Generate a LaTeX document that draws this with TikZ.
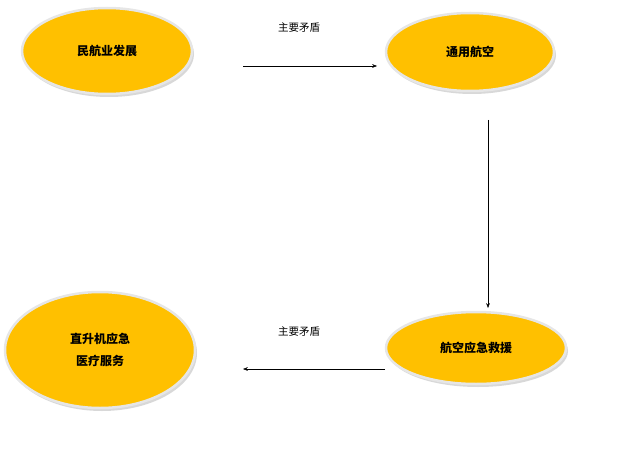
\documentclass[tikz,border=0pt]{standalone}
\usepackage{fontspec}
\newfontfamily\cjk{Noto Sans CJK SC}
\usetikzlibrary{shapes.geometric, arrows.meta, shadows}
\definecolor{gold}{HTML}{FFC000}
\definecolor{rim}{HTML}{E6E6E6}

\begin{document}
\begin{tikzpicture}[x=1pt, y=-1pt, >=Stealth,
    stage/.style={draw=rim, line width=2.5pt, fill=gold, ellipse, align=center,
        font=\cjk\bfseries\fontsize{12}{22}\selectfont, inner sep=0pt,
        drop shadow={shadow xshift=2pt, shadow yshift=-3pt, fill=gray!60}},
    tag/.style={font=\cjk\fontsize{10.5}{12}\selectfont}]
    \useasboundingbox (0,0) rectangle (620,449);

    % Stages
    \node[stage, minimum width=170pt, minimum height=86pt] (civil) at (107,51) {民航业发展};
    \node[stage, minimum width=168pt, minimum height=78pt] (general) at (470,52) {通用航空};
    \node[stage, minimum width=180pt, minimum height=72pt] (rescue) at (476,348) {航空应急救援};
    \node[stage, minimum width=190pt, minimum height=116pt] (heli) at (100,350) {直升机应急\\医疗服务};

    % Arrow ends
    \coordinate (a1) at (243,66);
    \coordinate (a2) at (377,66);
    \coordinate (b1) at (488,120);
    \coordinate (b2) at (488,308);
    \coordinate (c1) at (385,369);
    \coordinate (c2) at (243,369);

    % Arrows
    \foreach \i/\j in {a1/a2, b1/b2, c1/c2}
        \draw[->] (\i) -- (\j);

    % Labels
    \node[tag] (top) at (299,28) {主要矛盾};
    \node[tag] (bottom) at (299,332) {主要矛盾};
\end{tikzpicture}
\end{document}
